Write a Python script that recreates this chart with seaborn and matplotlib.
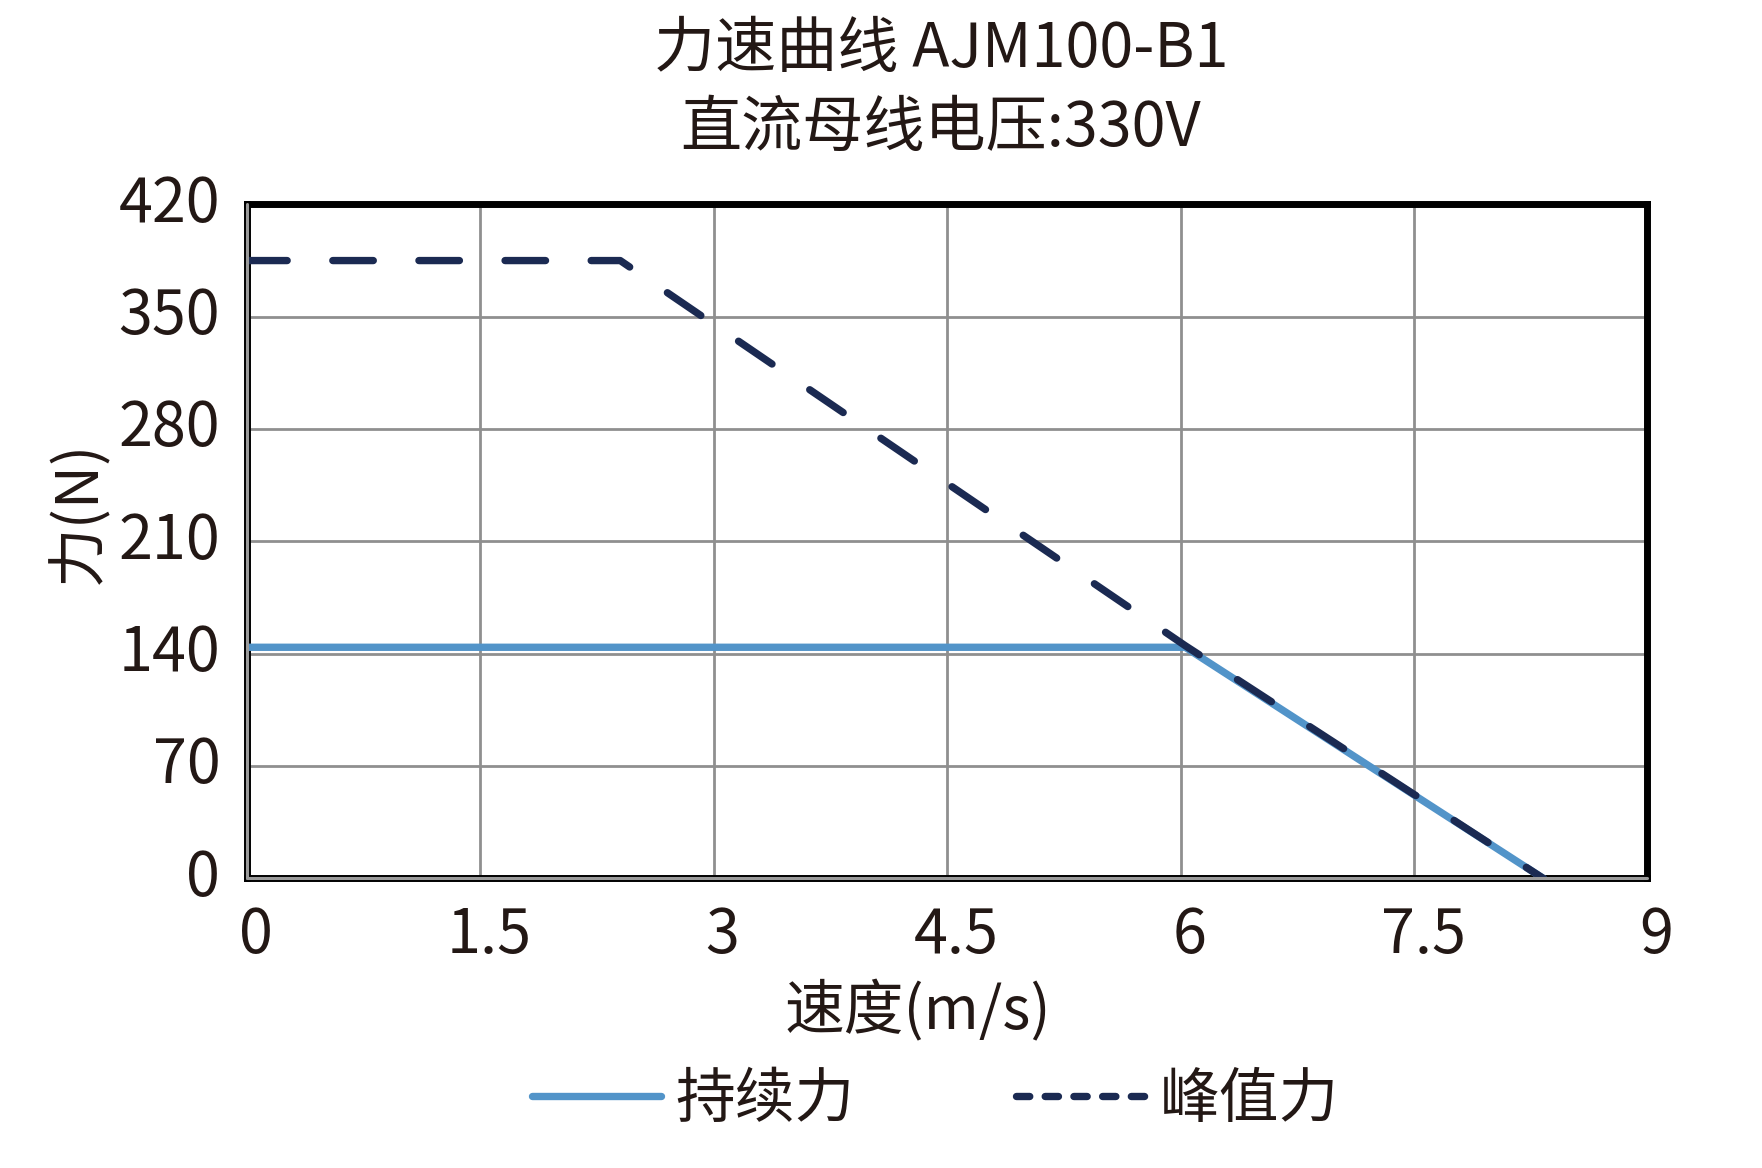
import matplotlib
matplotlib.use("Agg")
import matplotlib.pyplot as plt
import matplotlib.transforms as mtransforms
import seaborn as sns
import pandas as pd

# ---- data ----
speed_cont = [0, 6.03, 8.33]
force_cont = [144, 144, 0]
speed_peak = [0, 2.4, 6.03, 8.33]
force_peak = [385, 385, 145, 0]
x_ticks = [0, 1.5, 3, 4.5, 6, 7.5, 9]
x_ticklabels = ["0", "1.5", "3", "4.5", "6", "7.5", "9"]
y_ticks = [0, 70, 140, 210, 280, 350, 420]
y_ticklabels = ["0", "70", "140", "210", "280", "350", "420"]
series_names = ["持续力", "峰值力"]
title_lines = ["力速曲线 AJM100-B1", "直流母线电压:330V"]
x_label = "速度(m/s)"
y_label = "力(N)"

sns.set_style("white")
plt.rcParams['font.family'] = ['Noto Sans CJK SC', 'DejaVu Sans']
TXT = '#231815'
C_CONT = '#5294C9'
C_PEAK = '#1B2A52'

fig = plt.figure(figsize=(17.62, 11.68), dpi=100)
ax = fig.add_axes([0.140, 0.248, 0.795, 0.577])

df_c = pd.DataFrame({"speed": speed_cont, "force": force_cont})
df_p = pd.DataFrame({"speed": speed_peak, "force": force_peak})

sns.lineplot(data=df_c, x="speed", y="force", ax=ax, color=C_CONT, lw=5.3,
             label=series_names[0], sort=False, solid_capstyle='round', zorder=3)
sns.lineplot(data=df_p, x="speed", y="force", ax=ax, color=C_PEAK, lw=5.3,
             label=series_names[1], sort=False, zorder=4)
pl = ax.get_lines()[1]
pl.set_linestyle((0, (5.5, 6.2)))
pl.set_dash_capstyle('round')

ax.set_xlim(0, 9)
ax.set_ylim(0, 420)
ax.set_xticks(x_ticks)
ax.set_xticklabels(x_ticklabels)
ax.set_yticks(y_ticks)
ax.set_yticklabels(y_ticklabels)
ax.grid(True, color='#8f8f8f', lw=2)
ax.set_axisbelow(True)
ax.tick_params(length=0, labelsize=44, labelcolor=TXT)
ax.tick_params(axis='y', pad=19)
ax.tick_params(axis='x', pad=19)
for s in ax.spines.values():
    s.set_visible(True)
    s.set_color('black')
    s.set_linewidth(5)
ax.axvline(0, color='#9a9a9a', lw=2.2, zorder=5, clip_on=False)
ax.axhline(0, color='#9a9a9a', lw=2.2, zorder=5, clip_on=False)
ax.set_xlabel("")
ax.set_ylabel("")

off_x = mtransforms.ScaledTranslation(9/100, 0, fig.dpi_scale_trans)
for lab in ax.get_xticklabels():
    lab.set_transform(lab.get_transform() + off_x)
off_y = mtransforms.ScaledTranslation(0, 7/100, fig.dpi_scale_trans)
for lab in ax.get_yticklabels():
    lab.set_transform(lab.get_transform() + off_y)

fig.text(0.534, 0.957, title_lines[0], ha='center', va='center', fontsize=44, color=TXT)
fig.text(0.534, 0.890, title_lines[1], ha='center', va='center', fontsize=44, color=TXT)
fig.text(0.521, 0.133, x_label, ha='center', va='center', fontsize=43, color=TXT)
fig.text(0.045, 0.561, y_label, ha='center', va='center', rotation=90, fontsize=43, color=TXT)

ax.get_legend().remove()
handles, labels = ax.get_legend_handles_labels()
leg = fig.legend(handles, labels, loc='center', bbox_to_anchor=(0.531, 0.058), ncol=2,
                 frameon=False, fontsize=43, handlelength=2.16, handletextpad=0.25,
                 columnspacing=2.7, labelcolor=TXT)
ll = leg.get_lines()
ll[0].set_solid_capstyle('round')
ll[1].set_linestyle((0, (1.8, 2.1)))
ll[1].set_dash_capstyle('round')

fig.savefig("out.png", dpi=100)
